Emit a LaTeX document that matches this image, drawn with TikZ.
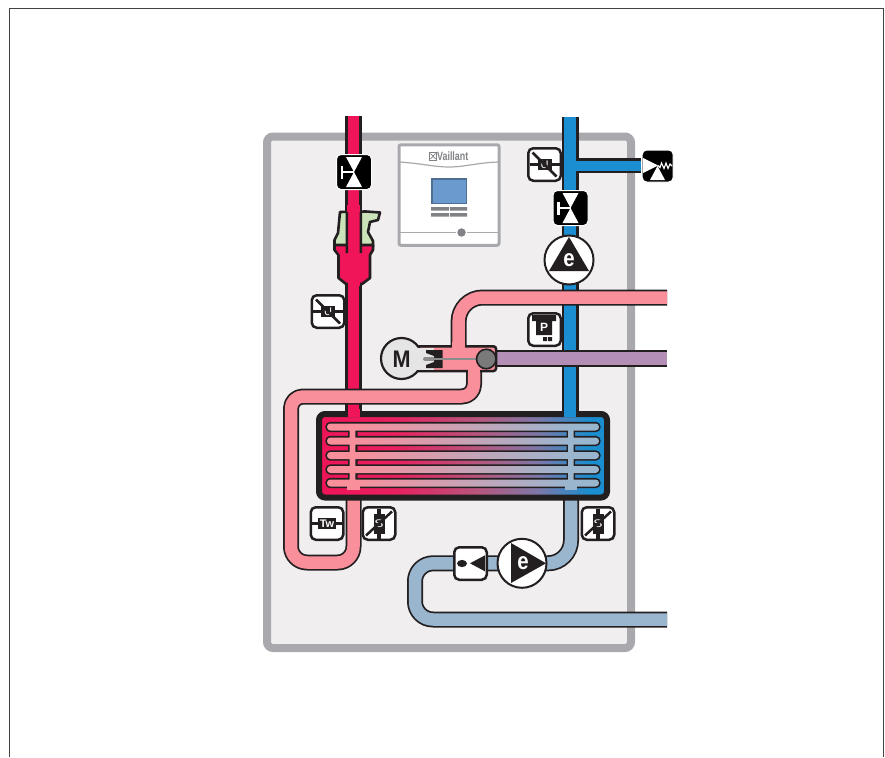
\documentclass[tikz,border=0pt]{standalone}
\usepackage{fontspec}
\setmainfont{Liberation Sans}
\usetikzlibrary{calc}
\definecolor{ink}{HTML}{231F20}
\definecolor{panelgray}{HTML}{A9A9AD}
\definecolor{panelbg}{HTML}{F0EEEF}
\definecolor{hot}{HTML}{F01458}
\definecolor{cold}{HTML}{1A8ED0}
\definecolor{pinkp}{HTML}{F88F9B}
\definecolor{bluep}{HTML}{9AB6CF}
\definecolor{purp}{HTML}{B38FB5}
\definecolor{leaf}{HTML}{CBE3B8}
\definecolor{screen}{HTML}{6B9BCE}
\definecolor{screenedge}{HTML}{4F6F92}
\definecolor{ctrlgray}{HTML}{808285}
\definecolor{hxa}{HTML}{E8205F}
\definecolor{hxb}{HTML}{B5587F}
\definecolor{hxc}{HTML}{7C78A8}
\pgfdeclarehorizontalshading{hxbody}{100bp}{color(0bp)=(hot); color(25bp)=(hot); color(38bp)=(hxa); color(53bp)=(hxb); color(63bp)=(hxc); color(72bp)=(cold); color(75bp)=(cold); color(100bp)=(cold)}
\pgfdeclarehorizontalshading{hxtube}{100bp}{color(0bp)=(pinkp); color(30bp)=(pinkp); color(70bp)=(bluep); color(100bp)=(bluep)}
\tikzset{
  iconbox/.style={draw=ink,fill=white,line width=2.5pt,rounded corners=5pt,minimum width=32.5pt,minimum height=32.5pt,inner sep=0pt},
  blackbox/.style={draw=white,fill=black,line width=1pt,rounded corners=4.5pt,minimum width=35pt,minimum height=35pt,inner sep=0pt},
  pumpc/.style={circle,draw=ink,fill=white,line width=2pt,minimum size=49pt,inner sep=0pt},
  tag/.style={font=\bfseries\fontsize{#1}{#1}\selectfont,inner sep=0pt},
  thinTag/.style={font=\fontsize{#1}{#1}\selectfont,inner sep=0pt},
}
\newcommand{\pipeb}[3]{\draw[ink,line width=#1pt,rounded corners=#2pt,line join=round] #3;}
\newcommand{\pipef}[4]{\draw[#1,line width=#2pt,rounded corners=#3pt,line join=round] #4;}
\newcommand{\valveglyph}[1]{
  \fill[white] ($(#1)+(-8,-15)$) -- ($(#1)+(8,-15)$) -- (#1) -- cycle;
  \fill[white] ($(#1)+(-8,15)$) -- ($(#1)+(8,15)$) -- (#1) -- cycle;
  \draw[white,line width=2.4pt] ($(#1)+(-12,0)$) -- (#1);
  \draw[white,line width=2.6pt] ($(#1)+(-12,-6.5)$) -- ($(#1)+(-12,6.5)$);
}
\newcommand{\hsensor}[2]{
  \draw[ink,line width=3.8pt] ($(#1)+(-15,0)$) -- ($(#1)+(15,0)$);
  \fill[ink] ($(#1)+(-#2,-5.5)$) rectangle ($(#1)+(#2,5.5)$);
}
\newcommand{\vsensor}[1]{
  \draw[ink,line width=3.8pt] ($(#1)+(0,-15)$) -- ($(#1)+(0,15)$);
  \fill[ink] ($(#1)+(-5.5,-10)$) rectangle ($(#1)+(5.5,10)$);
  \node[thinTag=11,text=white,xscale=1.25] at (#1) {S};
  \draw[ink,line width=2.5pt] ($(#1)+(-13,12)$) -- ($(#1)+(13,-12)$);
}
\begin{document}
\begin{tikzpicture}[x=1pt,y=-1pt]
\useasboundingbox (0,0) rectangle (885,757);
\fill[white] (0,0) rectangle (885,757);
% outer frame
\draw[ink!85,line width=1pt] (9.5,757) -- (9.5,8.5) -- (883.5,8.5) -- (883.5,757);
% panel
\draw[panelgray,fill=panelbg,line width=8pt,rounded corners=6pt] (267,136.5) rectangle (631,648);
% supply pipes
\pipeb{17}{0}{(353.7,116) -- (353.7,420)}
\pipef{hot}{11}{0}{(353.7,116) -- (353.7,420)}
\pipeb{17}{0}{(570,117) -- (570,420)}
\pipeb{15}{0}{(570,165.5) -- (641,165.5)}
\pipef{cold}{11.5}{0}{(570,117) -- (570,420)}
\pipef{cold}{10}{0}{(570,165.5) -- (641,165.5)}
% controller
\node[draw=panelgray,fill=white,line width=3pt,rounded corners=2pt,minimum width=100pt,minimum height=100.5pt,inner sep=0pt] (ctrl) at (449,195) {};
\draw[panelgray,line width=1.2pt] (400,162) .. controls (425,164) and (435,167) .. (449,167) .. controls (465,167) and (475,163) .. (498,162);
\node[font=\bfseries\fontsize{12}{12}\selectfont,text=ctrlgray,xscale=.74,inner sep=0pt] (brand) at (452.7,156) {Vaillant};
\draw[ctrlgray,line width=.8pt] (429.5,152.5) rectangle (436.5,160);
\draw[ctrlgray,line width=.7pt] (430.5,153.5) -- (435.5,159) (435.5,153.5) -- (430.5,159);
\fill[screenedge] (431,178) rectangle (467,204);
\fill[screen] (432.5,179.5) rectangle (465.5,202.5);
\fill[ctrlgray] (431,207) rectangle (449,210.5) (450,207) rectangle (467,210.5) (431,213) rectangle (449,216.5) (450,213) rectangle (467,216.5);
\draw[panelgray,line width=1.2pt] (400,232.7) -- (498,232.7);
\node[circle,fill=ctrlgray,draw=white,line width=1.2pt,minimum size=10pt,inner sep=0pt] (knob) at (461.5,232.5) {};
% filter
\draw[ink,fill=leaf,line width=2.6pt,line join=round] (334.5,247) -- (334.5,240) -- (338,233) -- (340,212) -- (366,211.5) -- (380,212.5) -- (378,220) -- (370,222) -- (368,232) -- (373,241) -- (373,247) -- cycle;
\draw[ink,fill=hot,line width=2.6pt,line join=round] (334.5,245) -- (373,245) -- (373,250) -- (370,255) -- (370,278) -- (362,284) -- (346,284) -- (338.5,278) -- (338.5,255) -- (334.5,250) -- cycle;
\fill[hot] (347,205) rectangle (360.4,252);
\fill[hot] (347.5,272) rectangle (360,286);
\fill[ink] (345.5,212) rectangle (348,253) (359.5,212) rectangle (362,253);
% red valve
\node[blackbox] (v1) at (354,172) {};
\valveglyph{v1.center}
% U sensor left
\node[iconbox] (u1) at (328,311.5) {};
\hsensor{u1.center}{7}
\node[thinTag=11,text=white] (u1t) at (u1.center) {U};
\draw[ink,line width=2.5pt] ($(u1.center)+(-12,-12)$) -- ($(u1.center)+(12,12)$);
% U sensor right
\node[iconbox] (u2) at (544.5,164.5) {};
\hsensor{u2.center}{7}
\node[thinTag=11,text=white] (u2t) at (u2.center) {U};
\draw[ink,line width=2.5pt] ($(u2.center)+(-12,-12)$) -- ($(u2.center)+(12,12)$);
% safety valve
\node[blackbox,minimum width=31pt,minimum height=32pt] (sv) at (657.7,166) {};
\fill[white] (643,158) -- (658,165.5) -- (643,173) -- cycle;
\fill[white] (650,180) -- (665,180) -- (657.5,166) -- cycle;
\draw[white,line width=1.1pt] (658,165.5) -- (660,167.5) -- (661.5,163) -- (664,168.5) -- (666,163) -- (668,168.5) -- (670,164) -- (672,166);
% blue valve
\node[blackbox] (v2) at (570.5,208) {};
\valveglyph{v2.center}
% upper pump
\node[pumpc] (p1) at (569,260) {};
\fill[ink] (569,237) -- (589,271) -- (549,271) -- cycle;
\node[tag=24,text=white,xscale=.85] (p1e) at (569,260) {e};
% pressure
\node[iconbox] (pr) at (544.5,329.5) {};
\fill[ink] (532,315) -- (556,315) -- (556,321) -- (552,321) -- (552,335) -- (536,335) -- (536,321) -- (532,321) -- cycle;
\node[tag=12,text=white] (prt) at (544,327) {P};
\fill[ink] (543,337) rectangle (547,341) (548,337) rectangle (552,341);
% hot outlet pipe, upper
\pipeb{16}{24}{(667,297.5) -- (458.6,297.5) -- (458.6,350)}
\pipef{pinkp}{12.5}{24}{(667,297.5) -- (458.6,297.5) -- (458.6,350)}
% purple
\draw[ink,line width=17pt] (490,358.5) -- (667,358.5);
\draw[purp,line width=13pt] (490,358.5) -- (667,358.5);
% lower pink loop
\pipeb{16}{12}{(474,365) -- (474,396.5) -- (291,396.5) -- (291,480) [rounded corners=16pt] (291,480) -- (291,562.5) -- (353.5,562.5) -- (353.5,487)}
\pipef{pinkp}{12.5}{12}{(474,365) -- (474,396.5) -- (291,396.5) -- (291,480) [rounded corners=16pt] (291,480) -- (291,562.5) -- (353.5,562.5) -- (353.5,480)}
% lower blue loop
\pipeb{16}{18}{(667,619.5) -- (415,619.5) -- (415,563.3) -- (480,563.3) [rounded corners=23pt] (480,563.3) -- (571,563.3) -- (571,487)}
\pipef{bluep}{12.5}{18}{(667,619.5) -- (415,619.5) -- (415,563.3) -- (480,563.3) [rounded corners=23pt] (480,563.3) -- (571,563.3) -- (571,480)}
% motor + mixing valve body
\draw[ink,fill=pinkp,line width=2.5pt,rounded corners=2.5pt] (416,346.3) rectangle (496,371);
\node[circle,draw=ink,fill=black!10,line width=2.2pt,minimum size=41pt,inner sep=0pt] (motor) at (401.5,358.5) {};
\fill[black!10] (414,347.7) rectangle (434,369.7);
\node[tag=24,text=ink,xscale=.9] (mt) at (401.5,359) {M};
\fill[pinkp] (452.4,342) rectangle (464.8,350);
\fill[pinkp] (467.8,368) rectangle (480.2,376);
\fill[ink] (426,350) -- (442.5,350) -- (442.5,368) -- (426,368) -- (426,365) -- (434,362) -- (434,356) -- (426,353) -- cycle;
\draw[black!45,line width=4pt,line cap=round] (425,359) -- (433,359);
\draw[black!45,line width=1.8pt] (433,359) -- (478,359);
\node[circle,draw=ink,fill=black!52,line width=1.6pt,minimum size=19.5pt,inner sep=0pt] (vc) at (486.3,359) {};
% exchanger
\draw[ink,line width=6pt,rounded corners=6pt,shading=hxbody] (319,414) rectangle (607,497.5);
\fill[hot] (347.5,409) rectangle (360,417);
\fill[cold] (564,409) rectangle (576,417);
% tube outlines
\foreach \yy in {427,441,455.5,469.5,483}{
  \fill[ink,rounded corners=5pt] (325.3,\yy-5.2) rectangle (600.7,\yy+5.2);
}
\fill[ink] (348,427) rectangle (357.5,483) (566.7,427) rectangle (575.2,483);
% tube interiors: one union path, one shading
\path[shading=hxtube] 
  [rounded corners=3.4pt]
  (327,427-3.5) rectangle (599,427+3.5)
  (327,441-3.5) rectangle (599,441+3.5)
  (327,455.5-3.5) rectangle (599,455.5+3.5)
  (327,469.5-3.5) rectangle (599,469.5+3.5)
  (327,483-3.5) rectangle (599,483+3.5)
  [sharp corners]
  (349.7,427) rectangle (355.3,483)
  (568,427) rectangle (573.6,483);
% pipe stubs into tubes
\fill[pinkp] (347.3,480) rectangle (359.7,490);
\fill[bluep] (564.8,480) rectangle (577.2,490);
% Tw sensor
\node[iconbox] (tw) at (327,523.5) {};
\hsensor{tw.center}{9}
\node[tag=11,text=white] (twt) at (tw.center) {Tw};
% S sensors
\node[iconbox] (s1) at (379,523.5) {};
\vsensor{s1.center}
\node[iconbox] (s2) at (598,523.5) {};
\vsensor{s2.center}
% check valve
\node[iconbox] (cv) at (470.5,563.5) {};
\fill[ink] (cv.center)++(-8.5,0) ellipse (5 and 3.6);
\fill[ink] (470,563.3) -- (485,555.3) -- (485,571.3) -- cycle;
% lower pump
\node[pumpc] (p2) at (522,563.3) {};
\fill[ink] (511,543) -- (546,563.3) -- (511,583) -- cycle;
\node[tag=24,text=white,xscale=.85] (p2e) at (523,563) {e};
\end{tikzpicture}
\end{document}
